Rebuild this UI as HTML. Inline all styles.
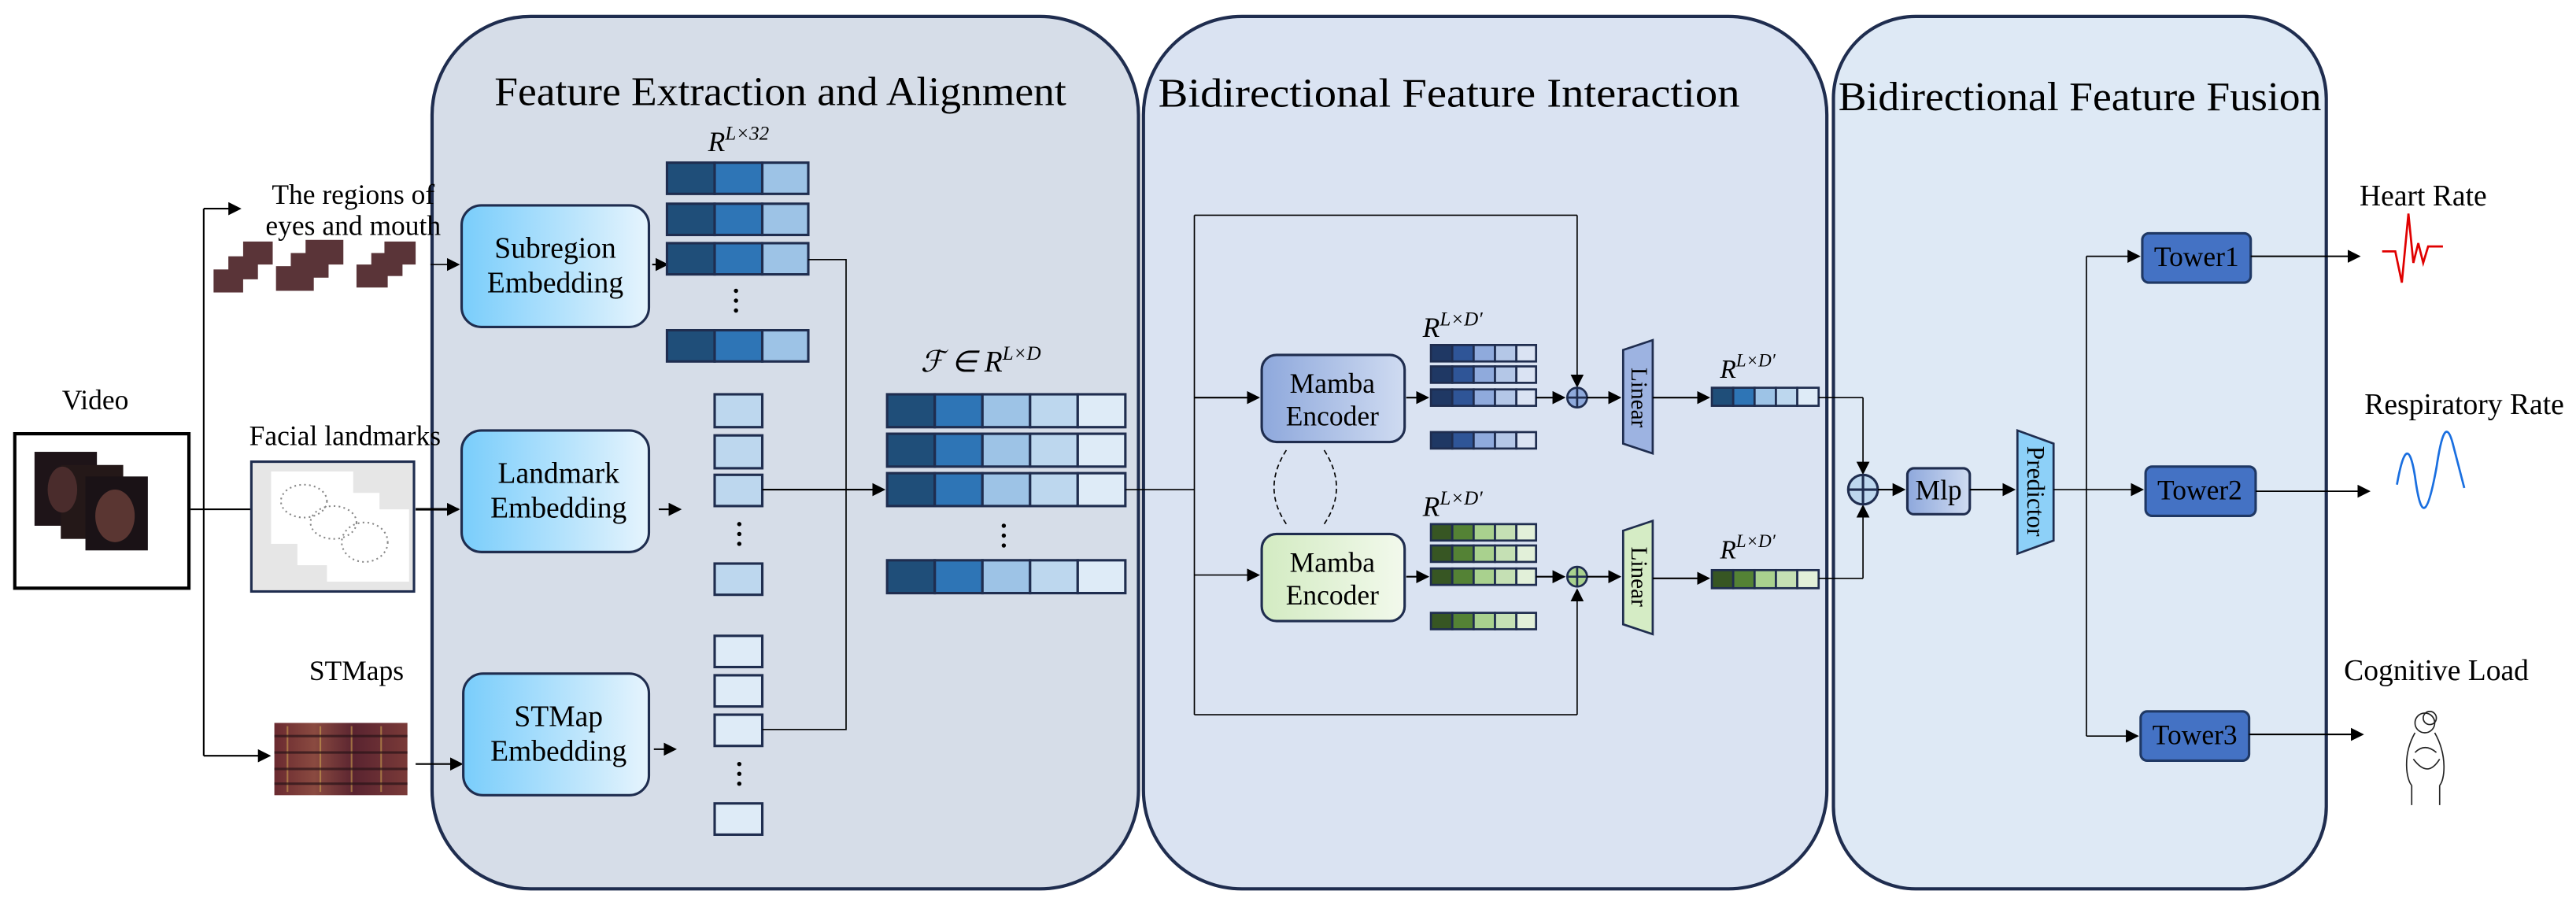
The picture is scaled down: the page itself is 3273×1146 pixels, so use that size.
<!DOCTYPE html>
<html><head><meta charset="utf-8"><style>
html,body{margin:0;padding:0;background:#fff;}
body{position:relative;width:3273px;height:1146px;overflow:hidden;}
svg{display:block;position:absolute;left:0;top:0;}
svg, svg text, svg tspan{font-family:"Liberation Serif","Times New Roman",serif !important;}
.it{font-style:italic;}
#ov{position:absolute;left:0;top:0;width:1568px;height:549px;transform:scale(2.08737,2.08743);transform-origin:0 0;font-family:"Liberation Serif","Times New Roman",serif;color:#000;}
#ov span{position:absolute;white-space:nowrap;line-height:1;transform:translateX(-50%);font-family:"Liberation Serif","Times New Roman",serif;}
</style></head><body>
<svg width="3273" height="1146" viewBox="0 0 1568 549" preserveAspectRatio="none" xmlns="http://www.w3.org/2000/svg" font-family="Liberation Serif, serif">
<defs>
<marker id="a" markerWidth="8" markerHeight="8" refX="7" refY="4" orient="auto" markerUnits="userSpaceOnUse"><path d="M0,0 L8,4 L0,8 z" fill="#000"/></marker>
<linearGradient id="emb" x1="0" y1="0" x2="1" y2="0"><stop offset="0" stop-color="#79cdfb"/><stop offset="1" stop-color="#e6f4fd"/></linearGradient>
<linearGradient id="mb" x1="0" y1="0" x2="1" y2="0"><stop offset="0" stop-color="#8ea8dc"/><stop offset="1" stop-color="#cfdbf1"/></linearGradient>
<linearGradient id="mg" x1="0" y1="0" x2="1" y2="0"><stop offset="0" stop-color="#d3ebc2"/><stop offset="1" stop-color="#f2f9ec"/></linearGradient>
<linearGradient id="st" x1="0" y1="0" x2="1" y2="0"><stop offset="0" stop-color="#6a2a30"/><stop offset=".3" stop-color="#8a4a40"/><stop offset=".6" stop-color="#5a2430"/><stop offset="1" stop-color="#7a3a38"/></linearGradient>
</defs>
<rect x="263" y="10" width="430" height="531" rx="60" fill="#d6dde8" stroke="#1f2d4f" stroke-width="2"/>
<rect x="696" y="10" width="416" height="531" rx="60" fill="#dae3f2" stroke="#1f2d4f" stroke-width="2"/>
<rect x="1116" y="10" width="300" height="531" rx="50" fill="#dee9f5" stroke="#1f2d4f" stroke-width="2"/>
<text x="475" y="64" font-size="25" text-anchor="middle" textLength="348" lengthAdjust="spacingAndGlyphs">Feature Extraction and Alignment</text>
<text x="882" y="65" font-size="25" text-anchor="middle" textLength="354" lengthAdjust="spacingAndGlyphs">Bidirectional Feature Interaction</text>
<text x="1266" y="67" font-size="25" text-anchor="middle" textLength="294" lengthAdjust="spacingAndGlyphs">Bidirectional Feature Fusion</text>

<rect x="9" y="264" width="106" height="94" fill="#fff" stroke="#000" stroke-width="2"/>
<rect x="21" y="275" width="38" height="45" fill="#1e1418"/><rect x="37" y="283" width="38" height="45" fill="#241818"/><rect x="52" y="290" width="38" height="45" fill="#1a1216"/>
<ellipse cx="70" cy="314" rx="12" ry="16" fill="#5a3632"/><ellipse cx="38" cy="298" rx="9" ry="14" fill="#4a2c2c"/>
<path d="M116,310 H124 M124,127 V460" stroke="#000" fill="none"/>
<path d="M124,127 H146" stroke="#000" marker-end="url(#a)"/>
<path d="M124,310 H160" stroke="#000" marker-end="url(#a)"/>
<path d="M124,460 H164" stroke="#000" marker-end="url(#a)"/>

<g fill="#5a3438"><rect x="148" y="147" width="18" height="14"/><rect x="139" y="156" width="18" height="14"/><rect x="130" y="164" width="18" height="14"/>
<rect x="186" y="146" width="23" height="15"/><rect x="177" y="154" width="23" height="15"/><rect x="168" y="162" width="23" height="15"/>
<rect x="234" y="147" width="19" height="14"/><rect x="226" y="154" width="19" height="14"/><rect x="217" y="161" width="19" height="14"/></g>
<path d="M262,161 H279" stroke="#000" stroke-width="0.8" marker-end="url(#a)"/>

<rect x="153" y="281" width="99" height="79" fill="#e6e6e6" stroke="#1f2d4f" stroke-width="1.5"/>
<rect x="165" y="287" width="50" height="44" fill="#fff"/><rect x="181" y="300" width="50" height="44" fill="#fff"/><rect x="199" y="310" width="50" height="44" fill="#fff"/>
<g fill="none" stroke="#888" stroke-dasharray="1 2"><ellipse cx="185" cy="305" rx="14" ry="10"/><ellipse cx="203" cy="318" rx="14" ry="10"/><ellipse cx="222" cy="330" rx="14" ry="12"/></g>
<path d="M253,310 H279" stroke="#000" stroke-width="1.5" marker-end="url(#a)"/>

<rect x="167" y="440" width="81" height="44" fill="url(#st)"/>
<g stroke="#caa050" stroke-width="1" opacity=".6"><path d="M175,442 V482 M195,442 V482 M214,442 V482 M232,442 V482"/></g>
<g stroke="#2a1418" stroke-width="1.5" opacity=".7"><path d="M167,448 H248 M167,458 H248 M167,468 H248 M167,477 H248"/></g>
<path d="M253,465 H281" stroke="#000" marker-end="url(#a)"/>

<g stroke="#1f2d4f" stroke-width="1.5" fill="url(#emb)">
<rect x="281" y="125" width="114" height="74" rx="12"/>
<rect x="281" y="262" width="114" height="74" rx="12"/>
<rect x="282" y="410" width="113" height="74" rx="12"/></g>
<path d="M397,161 H406" stroke="#000" marker-end="url(#a)"/>
<path d="M401,310 H414" stroke="#000" marker-end="url(#a)"/>
<path d="M398,456 H411" stroke="#000" marker-end="url(#a)"/>

<text transform="translate(431,92)" font-size="17" class="it">R<tspan font-size="12" dy="-7">L×32</tspan></text>
<g stroke="#1f2d4f" stroke-width="1.5">
<g transform="translate(406,99)"><rect width="29" height="19" fill="#1f4e79"/><rect x="29" width="29" height="19" fill="#2e75b6"/><rect x="58" width="28" height="19" fill="#9dc3e6"/></g>
<g transform="translate(406,124)"><rect width="29" height="19" fill="#1f4e79"/><rect x="29" width="29" height="19" fill="#2e75b6"/><rect x="58" width="28" height="19" fill="#9dc3e6"/></g>
<g transform="translate(406,148)"><rect width="29" height="19" fill="#1f4e79"/><rect x="29" width="29" height="19" fill="#2e75b6"/><rect x="58" width="28" height="19" fill="#9dc3e6"/></g>
<g transform="translate(406,201)"><rect width="29" height="19" fill="#1f4e79"/><rect x="29" width="29" height="19" fill="#2e75b6"/><rect x="58" width="28" height="19" fill="#9dc3e6"/></g>
</g>
<g fill="#000"><circle cx="448" cy="177" r="1.3"/><circle cx="448" cy="183" r="1.3"/><circle cx="448" cy="189" r="1.3"/></g>

<g stroke="#1f2d4f" stroke-width="1.5" fill="#bdd7ee">
<rect x="435" y="240" width="29" height="20"/><rect x="435" y="265" width="29" height="20"/><rect x="435" y="289" width="29" height="19"/><rect x="435" y="343" width="29" height="19"/></g>
<g fill="#000"><circle cx="450" cy="319" r="1.3"/><circle cx="450" cy="325" r="1.3"/><circle cx="450" cy="331" r="1.3"/></g>
<g stroke="#1f2d4f" stroke-width="1.5" fill="#deebf7">
<rect x="435" y="387" width="29" height="19"/><rect x="435" y="411" width="29" height="19"/><rect x="435" y="435" width="29" height="19"/><rect x="435" y="489" width="29" height="19"/></g>
<g fill="#000"><circle cx="450" cy="465" r="1.3"/><circle cx="450" cy="471" r="1.3"/><circle cx="450" cy="477" r="1.3"/></g>

<path d="M492,158 H515 V444 H464" stroke="#000" fill="none" stroke-width="0.8"/>
<path d="M464,298 H538" stroke="#000" marker-end="url(#a)"/>

<text transform="translate(597,226)" font-size="18" text-anchor="middle" class="it">ℱ ∈ R<tspan font-size="12" dy="-7">L×D</tspan></text>
<g stroke="#1f2d4f" stroke-width="1.5">
<g id="fb" transform="translate(540,240)"><rect width="29" height="20" fill="#1f4e79"/><rect x="29" width="29" height="20" fill="#2e75b6"/><rect x="58" width="29" height="20" fill="#9dc3e6"/><rect x="87" width="29" height="20" fill="#bdd7ee"/><rect x="116" width="29" height="20" fill="#deebf7"/></g>
<use href="#fb" y="24"/><use href="#fb" y="48"/><use href="#fb" y="101"/></g>
<g fill="#000"><circle cx="611" cy="320" r="1.3"/><circle cx="611" cy="326" r="1.3"/><circle cx="611" cy="332" r="1.3"/></g>

<path d="M685,298 H727 M727,131 V435 M727,131 H960 M727,435 H960" stroke="#000" fill="none" stroke-width="0.8"/>
<path d="M960,131 V235" stroke="#000" stroke-width="0.8" marker-end="url(#a)"/>
<path d="M960,435 V359" stroke="#000" stroke-width="0.8" marker-end="url(#a)"/>
<path d="M727,242 H766" stroke="#000" marker-end="url(#a)"/>
<path d="M727,350 H766" stroke="#000" stroke-width="0.8" marker-end="url(#a)"/>
<rect x="768" y="216" width="87" height="53" rx="9" fill="url(#mb)" stroke="#1f2d4f" stroke-width="1.5"/>
<rect x="768" y="325" width="87" height="53" rx="9" fill="url(#mg)" stroke="#1f2d4f" stroke-width="1.5"/>
<path d="M783,274 Q768,297 783,319 M806,274 Q821,297 806,319" fill="none" stroke="#000" stroke-width="0.8" stroke-dasharray="3 2"/>
<path d="M856,242 H869" stroke="#000" marker-end="url(#a)"/>
<path d="M856,351 H869" stroke="#000" marker-end="url(#a)"/>
<text transform="translate(866,205)" font-size="17" class="it">R<tspan font-size="12" dy="-7">L×D′</tspan></text>
<text transform="translate(866,314)" font-size="17" class="it">R<tspan font-size="12" dy="-7">L×D′</tspan></text>
<g stroke="#1f2d4f" stroke-width="1.3">
<g id="bb" transform="translate(871,210)"><rect width="13" height="10" fill="#1f3864"/><rect x="13" width="13" height="10" fill="#2f5597"/><rect x="26" width="13" height="10" fill="#8faadc"/><rect x="39" width="13" height="10" fill="#b4c7e7"/><rect x="52" width="12" height="10" fill="#dae3f3"/></g>
<use href="#bb" y="13"/><use href="#bb" y="27"/><use href="#bb" y="53"/>
<g id="gb" transform="translate(871,319)"><rect width="13" height="10" fill="#375623"/><rect x="13" width="13" height="10" fill="#548235"/><rect x="26" width="13" height="10" fill="#a9d18e"/><rect x="39" width="13" height="10" fill="#c5e0b4"/><rect x="52" width="12" height="10" fill="#e2f0d9"/></g>
<use href="#gb" y="13"/><use href="#gb" y="27"/><use href="#gb" y="54"/></g>
<path d="M935,242 H952" stroke="#000" marker-end="url(#a)"/>
<path d="M935,351 H952" stroke="#000" marker-end="url(#a)"/>
<g stroke="#1f2d4f" stroke-width="1.3"><circle cx="960" cy="242" r="6" fill="#8faadc"/><path d="M954,242 H966 M960,236 V248"/>
<circle cx="960" cy="351" r="6" fill="#a9d18e"/><path d="M954,351 H966 M960,345 V357"/></g>
<path d="M966,242 H986" stroke="#000" marker-end="url(#a)"/>
<path d="M966,351 H986" stroke="#000" marker-end="url(#a)"/>
<path d="M988,213 L1006,207 V276 L988,270 Z" fill="#9db3e1" stroke="#1f2d4f" stroke-width="1.3"/>
<path d="M988,323 L1006,317 V386 L988,380 Z" fill="#d5ecc5" stroke="#1f2d4f" stroke-width="1.3"/>
<text transform="translate(993,242) rotate(90)" font-size="14" text-anchor="middle">Linear</text>
<text transform="translate(993,351) rotate(90)" font-size="14" text-anchor="middle">Linear</text>
<path d="M1006,242 H1040" stroke="#000" marker-end="url(#a)"/>
<path d="M1006,352 H1040" stroke="#000" marker-end="url(#a)"/>
<text transform="translate(1047,230)" font-size="16" class="it">R<tspan font-size="11" dy="-7">L×D′</tspan></text>
<text transform="translate(1047,340)" font-size="16" class="it">R<tspan font-size="11" dy="-7">L×D′</tspan></text>
<g stroke="#1f2d4f" stroke-width="1.3">
<g transform="translate(1042,236)"><rect width="13" height="11" fill="#1f4e79"/><rect x="13" width="13" height="11" fill="#2e75b6"/><rect x="26" width="13" height="11" fill="#9dc3e6"/><rect x="39" width="13" height="11" fill="#bdd7ee"/><rect x="52" width="13" height="11" fill="#deebf7"/></g>
<g transform="translate(1042,347)"><rect width="13" height="11" fill="#375623"/><rect x="13" width="13" height="11" fill="#548235"/><rect x="26" width="13" height="11" fill="#a9d18e"/><rect x="39" width="13" height="11" fill="#c5e0b4"/><rect x="52" width="13" height="11" fill="#e2f0d9"/></g></g>

<path d="M1107,242 H1134" stroke="#000" fill="none" stroke-width="0.8"/>
<path d="M1134,242 V288" stroke="#000" stroke-width="0.8" marker-end="url(#a)"/>
<path d="M1107,352 H1134" stroke="#000" fill="none" stroke-width="0.8"/>
<path d="M1134,352 V308" stroke="#000" stroke-width="0.8" marker-end="url(#a)"/>
<g stroke="#1f2d4f" stroke-width="1.5"><circle cx="1134" cy="298" r="9" fill="#bdd7ee"/><path d="M1125,298 H1143 M1134,289 V307"/></g>
<path d="M1143,298 H1159" stroke="#000" marker-end="url(#a)"/>
<rect x="1161" y="285" width="38" height="28" rx="4" fill="url(#mb)" stroke="#1f2d4f" stroke-width="1.5"/>
<path d="M1199,298 H1226" stroke="#000" marker-end="url(#a)"/>
<path d="M1228,262 L1250,270 V329 L1228,337 Z" fill="#8dd0f8" stroke="#1f2d4f" stroke-width="1.3"/>
<text transform="translate(1234,299) rotate(90)" font-size="15" text-anchor="middle">Predictor</text>
<path d="M1250,298 H1270 M1270,156 V448" stroke="#000" fill="none" stroke-width="0.8"/>
<path d="M1270,156 H1302" stroke="#000" stroke-width="0.8" marker-end="url(#a)"/>
<path d="M1270,298 H1304" stroke="#000" stroke-width="0.8" marker-end="url(#a)"/>
<path d="M1270,448 H1301" stroke="#000" stroke-width="0.8" marker-end="url(#a)"/>
<g fill="#4472c4" stroke="#1f3864" stroke-width="1.5">
<rect x="1304" y="142" width="66" height="30" rx="4"/><rect x="1306" y="284" width="67" height="30" rx="4"/><rect x="1303" y="433" width="66" height="30" rx="4"/></g>
<path d="M1370,156 H1436" stroke="#000" marker-end="url(#a)"/>
<path d="M1373,299 H1442" stroke="#000" stroke-width="0.8" marker-end="url(#a)"/>
<path d="M1369,447 H1438" stroke="#000" marker-end="url(#a)"/>
<path d="M1450,153 H1458 L1462,172 L1466,130 L1469,160 L1472,148 L1475,160 L1478,150 H1487" fill="none" stroke="#e00000" stroke-width="1.3"/>
<path d="M1459,295 C1462,278 1466,265 1470,290 C1474,320 1478,312 1483,285 C1486,265 1489,255 1493,270 L1500,297" fill="none" stroke="#1a6fe0" stroke-width="1.3"/>
<g fill="none" stroke="#222" stroke-width="0.8"><circle cx="1476" cy="440" r="6"/><circle cx="1479" cy="437" r="4"/><path d="M1470,446 C1462,460 1465,475 1468,478 M1482,446 C1490,460 1488,475 1485,478 M1469,462 C1475,470 1480,470 1485,462 M1468,478 V490 M1485,478 V490 M1470,458 Q1476,452 1483,458"/></g>
</svg>
<div id="ov">
<span style="left:58px;top:235px;font-size:17px">Video</span>
<span style="left:215px;top:110px;font-size:17px">The regions of</span>
<span style="left:215px;top:129px;font-size:17px">eyes and mouth</span>
<span style="left:210px;top:257px;font-size:17px">Facial landmarks</span>
<span style="left:217px;top:400px;font-size:17px">STMaps</span>
<span style="left:338px;top:142px;font-size:18px">Subregion</span>
<span style="left:338px;top:163px;font-size:18px">Embedding</span>
<span style="left:340px;top:279px;font-size:18px">Landmark</span>
<span style="left:340px;top:300px;font-size:18px">Embedding</span>
<span style="left:340px;top:427px;font-size:18px">STMap</span>
<span style="left:340px;top:448px;font-size:18px">Embedding</span>
<span style="left:811px;top:225px;font-size:17px">Mamba</span>
<span style="left:811px;top:245px;font-size:17px">Encoder</span>
<span style="left:811px;top:334px;font-size:17px">Mamba</span>
<span style="left:811px;top:354px;font-size:17px">Encoder</span>
<span style="left:1180px;top:290px;font-size:17px">Mlp</span>
<span style="left:1337px;top:148px;font-size:17px">Tower1</span>
<span style="left:1339px;top:290px;font-size:17px">Tower2</span>
<span style="left:1336px;top:439px;font-size:17px">Tower3</span>
<span style="left:1475px;top:110px;font-size:18px">Heart Rate</span>
<span style="left:1500px;top:237px;font-size:18px">Respiratory Rate</span>
<span style="left:1483px;top:399px;font-size:18px">Cognitive Load</span>
</div>
</body></html>
